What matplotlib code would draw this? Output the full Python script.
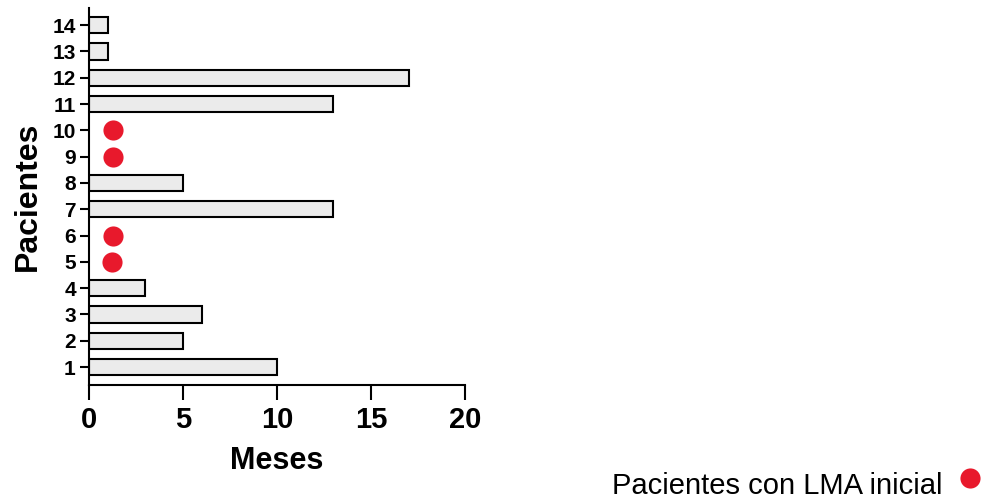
import matplotlib.pyplot as plt
from matplotlib.lines import Line2D

plt.rcParams['font.family'] = ['Liberation Sans', 'DejaVu Sans']

# Meses de seguimiento por paciente
pacientes = [1, 2, 3, 4, 7, 8, 11, 12, 13, 14]
meses = [10, 5, 6, 3, 13, 5, 13, 17, 1, 1]

# Pacientes con LMA inicial (punto rojo)
pacientes_lma = [5, 6, 9, 10]
meses_lma = [1.2, 1.3, 1.25, 1.3]

rojo = '#E8192C'

fig = plt.figure(figsize=(9.81, 4.99), dpi=100)
ax = fig.add_axes([89 / 981, 1 - 385 / 499, 376 / 981, 377 / 499])

ax.barh(pacientes, meses, height=0.62, color='#EBEBEB',
        edgecolor='black', linewidth=1.5)
ax.plot(meses_lma, pacientes_lma, 'o', color=rojo, markersize=14.5,
        markeredgewidth=0)

ax.set_xlim(0, 20)
ax.set_ylim(0.32, 14.65)
ax.set_xticks([0, 5, 10, 15, 20])
ax.set_yticks(range(1, 15))

ax.spines['top'].set_visible(False)
ax.spines['right'].set_visible(False)
ax.spines['left'].set_linewidth(1.5)
ax.spines['bottom'].set_linewidth(1.5)

ax.tick_params(axis='y', length=6.5, width=1.5, labelsize=15, pad=3)
ax.tick_params(axis='x', length=11, width=1.5, labelsize=21, pad=4)
for lab in ax.get_xticklabels() + ax.get_yticklabels():
    lab.set_fontweight('bold')

ax.set_xlabel('Meses', fontsize=22, fontweight='bold', labelpad=9)
ax.set_ylabel('Pacientes', fontsize=23, fontweight='bold', labelpad=7)

# Leyenda en la esquina inferior derecha
fig.text(612 / 981, 1 - 494 / 499, 'Pacientes con LMA inicial',
         fontsize=21, va='baseline', ha='left')
fig.add_artist(Line2D([970 / 981], [1 - 478 / 499], transform=fig.transFigure,
                      marker='o', color=rojo, linestyle='', markersize=14.5,
                      markeredgewidth=0))

fig.savefig('out.png', dpi=100)
